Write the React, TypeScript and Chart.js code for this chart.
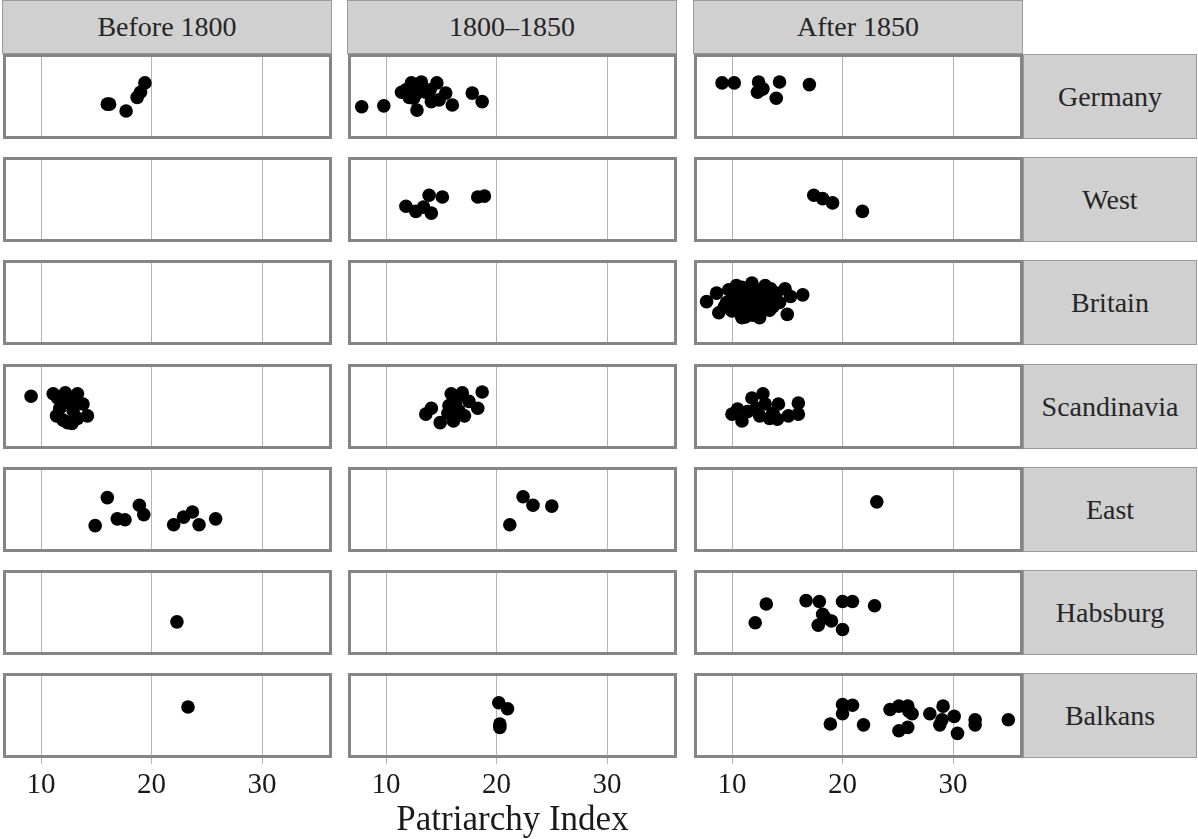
import React, { useEffect, useRef } from "react";
import { Chart, registerables } from "chart.js";

Chart.register(...registerables);

const periods = ["Before 1800", "1800–1850", "After 1850"];
const regions = ["Germany", "West", "Britain", "Scandinavia", "East", "Habsburg", "Balkans"];
const tickValues = [10, 20, 30];
const axisTitle = "Patriarchy Index";

// Each panel: x = patriarchy index, y = vertical jitter (0..1)
const germanyBefore1800X = [16.0, 16.2, 17.7, 18.7, 19.0, 19.4];
const germanyBefore1800Y = [0.41, 0.41, 0.33, 0.49, 0.55, 0.66];
const germany1800X = [7.8, 9.8, 11.4, 11.8, 12.1, 12.3, 12.8, 13.2, 13.6, 14.1, 14.6, 14.8, 15.4, 16.0, 17.8, 18.7, 12.8, 13.0, 14.0, 12.5];
const germany1800Y = [0.38, 0.39, 0.55, 0.58, 0.49, 0.66, 0.54, 0.67, 0.55, 0.44, 0.66, 0.46, 0.54, 0.40, 0.54, 0.44, 0.34, 0.60, 0.58, 0.48];
const germanyAfterX = [9.1, 10.2, 12.4, 12.6, 12.3, 12.8, 14.3, 14.0, 17.0];
const germanyAfterY = [0.66, 0.66, 0.67, 0.58, 0.55, 0.59, 0.67, 0.48, 0.64];

const westBefore1800X: number[] = [];
const westBefore1800Y: number[] = [];
const west1800X = [11.8, 12.7, 13.4, 13.9, 14.1, 15.1, 18.3, 18.9];
const west1800Y = [0.42, 0.36, 0.41, 0.55, 0.34, 0.53, 0.53, 0.54];
const westAfterX = [17.4, 18.2, 19.1, 21.8];
const westAfterY = [0.55, 0.51, 0.46, 0.36];

const britainBefore1800X: number[] = [];
const britainBefore1800Y: number[] = [];
const britain1800X: number[] = [];
const britain1800Y: number[] = [];
const britainAfterX = [7.7, 8.6, 8.8, 9.7, 10.0, 10.9, 10.9, 11.8, 12.5, 13.1, 13.4, 14.8, 15.3, 16.4, 15.0, 14.0,
  9.5, 10.2, 10.6, 11.0, 11.3, 11.6, 12.0, 12.2, 12.6, 12.9, 13.3, 13.7, 10.4, 10.8, 11.2, 11.5, 11.9, 12.3, 12.7,
  13.0, 9.9, 11.4, 12.1, 13.5, 14.3, 11.7, 12.4, 10.7, 9.3];
const britainAfterY = [0.51, 0.61, 0.38, 0.65, 0.40, 0.68, 0.32, 0.73, 0.32, 0.57, 0.41, 0.66, 0.57, 0.59, 0.36, 0.61,
  0.50, 0.55, 0.45, 0.60, 0.52, 0.42, 0.66, 0.48, 0.38, 0.62, 0.50, 0.45, 0.70, 0.36, 0.33, 0.58, 0.35, 0.56, 0.46,
  0.70, 0.43, 0.66, 0.40, 0.66, 0.50, 0.53, 0.34, 0.55, 0.45];

const scandBefore1800X = [9.1, 11.1, 11.5, 11.7, 12.2, 12.4, 12.6, 13.3, 13.3, 13.8, 14.2, 11.4, 12.0, 12.9, 13.0, 11.9, 12.8];
const scandBefore1800Y = [0.62, 0.65, 0.60, 0.48, 0.66, 0.31, 0.56, 0.36, 0.65, 0.53, 0.39, 0.39, 0.34, 0.45, 0.58, 0.53, 0.30];
const scand1800X = [13.6, 14.1, 14.9, 15.7, 15.9, 16.1, 16.3, 16.6, 16.9, 17.1, 17.5, 18.3, 18.7, 15.6, 16.4];
const scand1800Y = [0.41, 0.48, 0.31, 0.51, 0.65, 0.33, 0.51, 0.45, 0.66, 0.39, 0.56, 0.48, 0.67, 0.42, 0.60];
const scandAfterX = [10.0, 10.5, 10.9, 11.8, 12.5, 12.8, 13.0, 13.4, 14.1, 14.2, 15.1, 16.0, 16.0, 11.4, 12.2, 13.7];
const scandAfterY = [0.41, 0.47, 0.33, 0.60, 0.39, 0.65, 0.53, 0.36, 0.35, 0.53, 0.39, 0.54, 0.41, 0.44, 0.48, 0.42];

const eastBefore1800X = [16.0, 14.9, 16.9, 17.6, 18.9, 19.3, 22.0, 22.9, 23.7, 24.3, 25.8];
const eastBefore1800Y = [0.64, 0.31, 0.39, 0.38, 0.55, 0.44, 0.32, 0.41, 0.47, 0.32, 0.39];
const east1800X = [22.4, 23.3, 25.0, 21.2];
const east1800Y = [0.65, 0.55, 0.54, 0.32];
const eastAfterX = [23.1];
const eastAfterY = [0.59];

const habsBefore1800X = [22.3];
const habsBefore1800Y = [0.39];
const habs1800X: number[] = [];
const habs1800Y: number[] = [];
const habsAfterX = [13.1, 12.1, 16.7, 17.9, 18.2, 17.8, 19.0, 20.0, 20.9, 20.0, 22.9, 18.4];
const habsAfterY = [0.60, 0.38, 0.64, 0.63, 0.48, 0.35, 0.40, 0.63, 0.63, 0.30, 0.58, 0.44];

const balkBefore1800X = [23.3];
const balkBefore1800Y = [0.60];
const balk1800X = [20.2, 21.0, 20.3, 20.3];
const balk1800Y = [0.65, 0.58, 0.40, 0.36];
const balkAfterX = [18.9, 20.0, 20.0, 20.9, 21.9, 24.3, 25.1, 25.9, 26.3, 25.1, 25.9, 27.9, 29.1, 28.8, 30.1, 30.4, 32.0, 32.0, 35.0, 26.0, 29.0];
const balkAfterY = [0.40, 0.52, 0.63, 0.62, 0.39, 0.57, 0.61, 0.61, 0.52, 0.32, 0.36, 0.52, 0.61, 0.39, 0.49, 0.29, 0.45, 0.39, 0.45, 0.55, 0.45];

const panelX: number[][][] = [
  [germanyBefore1800X, germany1800X, germanyAfterX],
  [westBefore1800X, west1800X, westAfterX],
  [britainBefore1800X, britain1800X, britainAfterX],
  [scandBefore1800X, scand1800X, scandAfterX],
  [eastBefore1800X, east1800X, eastAfterX],
  [habsBefore1800X, habs1800X, habsAfterX],
  [balkBefore1800X, balk1800X, balkAfterX],
];
const panelY: number[][][] = [
  [germanyBefore1800Y, germany1800Y, germanyAfterY],
  [westBefore1800Y, west1800Y, westAfterY],
  [britainBefore1800Y, britain1800Y, britainAfterY],
  [scandBefore1800Y, scand1800Y, scandAfterY],
  [eastBefore1800Y, east1800Y, eastAfterY],
  [habsBefore1800Y, habs1800Y, habsAfterY],
  [balkBefore1800Y, balk1800Y, balkAfterY],
];

const SERIF = "'Liberation Serif', 'Times New Roman', serif";
const COL_LEFT = [3, 348, 694];
const PANEL_W = 329;
const PANEL_H = 85;
const ROW_TOP = (i: number) => Math.round(54 + i * 103.2);
const TICK_AREA = 44;
const X_MIN = 6.56;
const X_MAX = 36.33;

const borderPlugin = {
  id: "panelBorder",
  afterDraw(chart: any) {
    const { ctx, chartArea } = chart;
    ctx.save();
    ctx.strokeStyle = "#858585";
    ctx.lineWidth = 3;
    ctx.strokeRect(chartArea.left + 1.5, chartArea.top + 1.5, chartArea.right - chartArea.left - 3, chartArea.bottom - chartArea.top - 3);
    ctx.restore();
  },
};

function Panel({ row, col }: { row: number; col: number }) {
  const ref = useRef<HTMLCanvasElement>(null);
  const bottom = row === regions.length - 1;
  useEffect(() => {
    if (!ref.current) return;
    const xs = panelX[row][col];
    const ys = panelY[row][col];
    const data = xs.map((x, i) => ({ x, y: ys[i] }));
    const chart = new Chart(ref.current, {
      type: "scatter",
      data: {
        datasets: [
          {
            data,
            backgroundColor: "#000000",
            borderColor: "#000000",
            borderWidth: 0,
            pointRadius: 6.8,
            pointHoverRadius: 6.8,
          },
        ],
      },
      options: {
        responsive: false,
        animation: false,
        events: [],
        layout: { padding: 0, autoPadding: false },
        plugins: { legend: { display: false }, tooltip: { enabled: false } },
        scales: {
          x: {
            type: "linear",
            min: X_MIN,
            max: X_MAX,
            afterBuildTicks: (s: any) => {
              s.ticks = tickValues.map((v) => ({ value: v }));
            },
            afterFit: (s: any) => {
              s.height = bottom ? TICK_AREA : 0;
            },
            grid: {
              color: "#b4b4b4",
              lineWidth: 1,
              drawTicks: bottom,
              tickLength: 6,
            },
            border: { display: false },
            ticks: {
              display: bottom,
              color: "#1a1a1a",
              padding: 4,
              font: { family: SERIF, size: 29 },
              maxRotation: 0,
              autoSkip: false,
            },
          },
          y: { type: "linear", min: 0, max: 1, display: false },
        },
      },
      plugins: [borderPlugin],
    });
    let alive = true;
    const fonts: any = (document as any).fonts;
    if (fonts && fonts.load) {
      fonts.load("29px 'Liberation Serif'").then(() => {
        if (alive) chart.update();
      }).catch(() => {});
    }
    return () => {
      alive = false;
      chart.destroy();
    };
  }, [row, col, bottom]);
  return (
    <canvas
      ref={ref}
      width={PANEL_W}
      height={PANEL_H + (bottom ? TICK_AREA : 0)}
      style={{ position: "absolute", left: COL_LEFT[col], top: ROW_TOP(row), width: PANEL_W, height: PANEL_H + (bottom ? TICK_AREA : 0) }}
    />
  );
}

const stripStyle: React.CSSProperties = {
  position: "absolute",
  background: "#d0d0d0",
  border: "1px solid #9a9a9a",
  boxSizing: "border-box",
  display: "flex",
  alignItems: "center",
  justifyContent: "center",
  fontFamily: SERIF,
  fontSize: 28,
  color: "#262626",
};

export default function App() {
  useEffect(() => {
    document.body.style.margin = "0";
  }, []);
  const panels = [];
  for (let r = 0; r < regions.length; r++) for (let c = 0; c < periods.length; c++) panels.push(<Panel key={r + "-" + c} row={r} col={c} />);
  return (
    <div style={{ position: "relative", width: 1198, height: 839, background: "#fff", overflow: "hidden" }}>
      {periods.map((p, c) => (
        <div key={p} style={{ ...stripStyle, left: COL_LEFT[c] - 1, top: 0, width: PANEL_W + 1, height: 54 }}>
          {p}
        </div>
      ))}
      {regions.map((r, i) => (
        <div key={r} style={{ ...stripStyle, left: 1023, top: ROW_TOP(i), width: 174, height: PANEL_H }}>
          {r}
        </div>
      ))}
      {panels}
      <div
        style={{
          position: "absolute",
          left: COL_LEFT[1],
          width: PANEL_W,
          top: 799,
          textAlign: "center",
          fontFamily: SERIF,
          fontSize: 35,
          color: "#1a1a1a",
          lineHeight: "40px",
        }}
      >
        {axisTitle}
      </div>
    </div>
  );
}
